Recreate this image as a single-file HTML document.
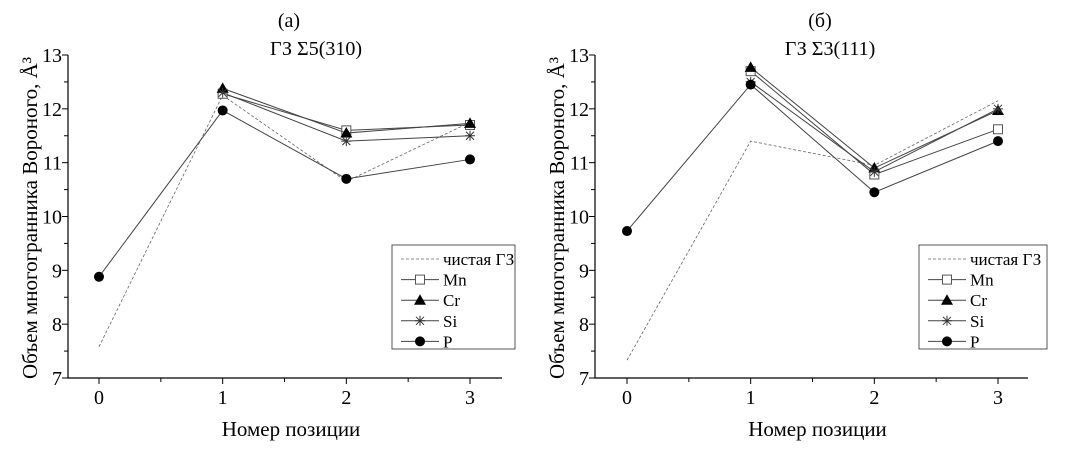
<!DOCTYPE html>
<html><head><meta charset="utf-8"><style>
body{margin:0;background:#fff}
svg{display:block}
svg text{font-family:"Liberation Serif","DejaVu Serif",serif}
</style></head><body>
<svg id="chart" width="1065" height="450" viewBox="0 0 1065 450" font-family="'Liberation Serif', 'DejaVu Serif', serif"></svg>
<script>
const categories=[0,1,2,3];
const seriesNames=["чистая ГЗ","Mn","Cr","Si","P"];
const leftClean=[7.58,12.25,10.65,11.75];
const leftMn=[null,12.28,11.6,11.7];
const leftCr=[null,12.38,11.55,11.73];
const leftSi=[null,12.3,11.4,11.5];
const leftP=[8.88,11.97,10.7,11.06];
const rightClean=[7.33,11.4,10.95,12.15];
const rightMn=[null,12.7,10.78,11.62];
const rightCr=[null,12.77,10.9,11.97];
const rightSi=[null,12.5,10.83,12.0];
const rightP=[9.73,12.45,10.45,11.4];
const yTicks=[7,8,9,10,11,12,13];
const xTicks=[0,1,2,3];

const NS="http://www.w3.org/2000/svg";
const svg=document.getElementById('chart');
function mk(tag,attrs,parent){const e=document.createElementNS(NS,tag);for(const k in attrs)e.setAttribute(k,attrs[k]);(parent||svg).appendChild(e);return e;}
function txt(s,attrs,parent){attrs['font-family']="Liberation Serif, DejaVu Serif, serif";const e=mk('text',attrs,parent);e.textContent=s;return e;}

function marker(g,type,x,y){
  let m;
  if(type==='Mn'){m=mk('rect',{x:x-4.5,y:y-4.5,width:9,height:9,fill:'#fff',stroke:'#555','stroke-width':1},g);}
  else if(type==='Cr'){m=mk('polygon',{points:`${x},${y-6} ${x-6},${y+4.5} ${x+6},${y+4.5}`,fill:'#000'},g);}
  else if(type==='Si'){m=mk('path',{d:`M${x-5},${y}H${x+5}M${x},${y-5}V${y+5}M${x-4},${y-4}L${x+4},${y+4}M${x-4},${y+4}L${x+4},${y-4}`,stroke:'#333','stroke-width':1,fill:'none'},g);}
  else if(type==='P'){m=mk('circle',{cx:x,cy:y,r:5,fill:'#000'},g);}
  return m;
}

function panel(cfg){
  const g=mk('g',{});
  
  
  const y0=378,y1=55,ax=cfg.ax;
  const sy=v=>y0-(v-7)*(y0-y1)/6;
  const sx=c=>cfg.x0+c*(cfg.x3-cfg.x0)/3;
  const axes=mk('path',{d:`M${ax},${y1}V${y0}H${cfg.xend}`,stroke:'#000','stroke-width':1.2,fill:'none'},g);
  
  
  for(let v=7;v<=13;v+=0.5){
    const major=Number.isInteger(v);
    mk('line',{x1:ax-(major?6:4),x2:ax,y1:sy(v),y2:sy(v),stroke:'#000','stroke-width':1},g);
  }
  yTicks.forEach(v=>{const t=txt(String(v),{x:ax-6,y:sy(v)+7,'font-size':20,'text-anchor':'end'},g);
    
    });
  for(let c=0;c<=3.5;c+=0.5){
    const x=sx(c); if(x>cfg.xend)continue;
    mk('line',{x1:x,x2:x,y1:y0,y2:y0+(Number.isInteger(c)?6:4),stroke:'#000','stroke-width':1},g);
  }
  xTicks.forEach(c=>{const t=txt(String(c),{x:sx(c),y:404,'font-size':20,'text-anchor':'middle'},g);
    
    });
  const xt=txt('Номер позиции',{x:(ax+cfg.xend)/2+6,y:436,'font-size':21,'text-anchor':'middle'},g);
  
  
  const yt=txt('Объем многогранника Вороного, Å³',{x:0,y:0,'font-size':21,'text-anchor':'middle',transform:`translate(${ax-31},218) rotate(-90)`},g);
  
  
  const t1=txt(cfg.t1,{x:cfg.tx1,y:27,'font-size':20,'text-anchor':'middle'},g);
  
  
  const t2=txt(cfg.t2,{x:cfg.tx2,y:55,'font-size':20,'text-anchor':'middle'},g);
  
  
  const data=[cfg.clean,cfg.mn,cfg.cr,cfg.si,cfg.p];
  data.forEach((arr,i)=>{
    const pts=[];arr.forEach((v,c)=>{if(v!==null)pts.push([sx(categories[c]),sy(v)]);});
    const sg=mk('g',{},g);
    
    
    mk('polyline',{points:pts.map(p=>p.join(',')).join(' '),fill:'none',stroke:i===0?'#666':'#444','stroke-width':i===0?0.8:1,'stroke-dasharray':i===0?'3,2':'none'},sg);
    if(i>0)pts.forEach(p=>{const m=marker(sg,seriesNames[i],p[0],p[1]);
      
      });
  });
  const L=cfg.leg;
  const lg=mk('g',{},g);
  
  
  mk('rect',{x:L.x,y:245,width:L.w,height:104,fill:'#fff',stroke:'#555','stroke-width':1},lg);
  seriesNames.forEach((n,i)=>{
    const y=259+i*20.6;
    const e=mk('g',{},lg);
    
    
    mk('line',{x1:L.x+9,x2:L.x+47,y1:y,y2:y,stroke:i===0?'#666':'#444','stroke-width':i===0?0.8:1,'stroke-dasharray':i===0?'3,2':'none'},e);
    if(i>0)marker(e,n,L.x+28,y);
    txt(n,{x:L.x+51,y:y+6,'font-size':17},e);
  });
}
panel({name:'panel-a',ax:68,xend:502,x0:99,x3:470,clean:leftClean,mn:leftMn,cr:leftCr,si:leftSi,p:leftP,t1:'(a)',t2:'ГЗ Σ5(310)',tx1:289,tx2:316,leg:{x:392,w:123}});
panel({name:'panel-b',ax:595,xend:1028,x0:627,x3:998,clean:rightClean,mn:rightMn,cr:rightCr,si:rightSi,p:rightP,t1:'(б)',t2:'ГЗ Σ3(111)',tx1:820,tx2:830,leg:{x:919,w:128}});
</script>
</body></html>
